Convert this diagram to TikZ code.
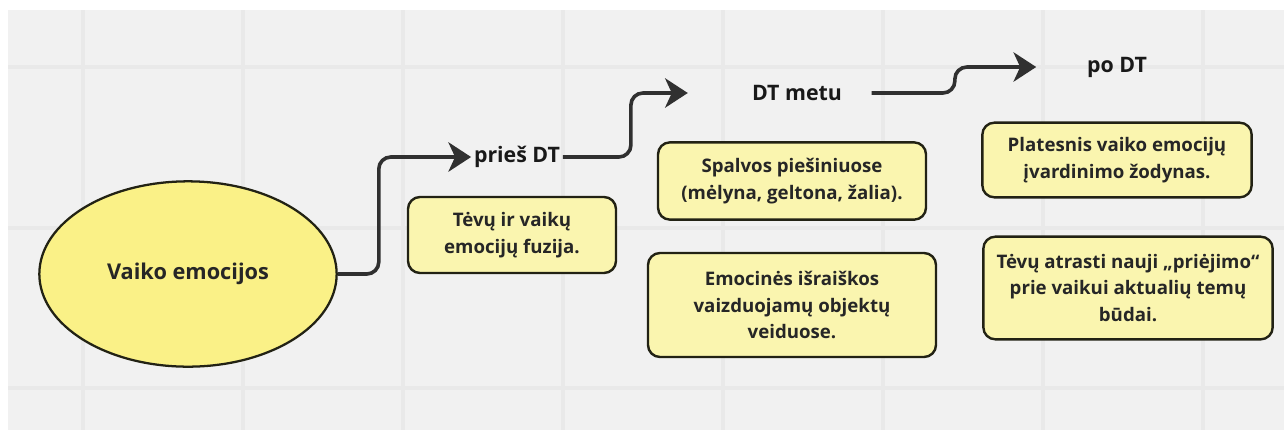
\documentclass[tikz,border=0pt]{standalone}
\usepackage{fontspec}
\setmainfont{Open Sans}
\usepackage{tikz}
\usetikzlibrary{arrows.meta,positioning,shapes.geometric}
\definecolor{cCanvas}{RGB}{241,241,241}
\definecolor{cGrid}  {RGB}{233,233,233}
\definecolor{cBlob}  {RGB}{250,241,135}
\definecolor{cNote}  {RGB}{250,245,175}
\definecolor{cEdge}  {RGB}{34,34,20}
\definecolor{cFlow}  {RGB}{48,48,48}
\tikzset{
  >={Stealth[length=17pt,width=22pt,inset=5pt]},
  blob/.style={ellipse,draw=cEdge,line width=1.7pt,fill=cBlob,
               minimum width=223pt,minimum height=139pt,inner sep=0pt,
               font=\fontsize{16.3}{20}\selectfont\bfseries,text=black!85},
  note/.style={draw=cEdge,line width=1.8pt,fill=cNote,rounded corners=9pt,
               align=center,inner sep=2pt,text=black!85,
               font=\fontsize{14}{20}\selectfont\bfseries},
  phase/.style={inner sep=2pt,font=\fontsize{16}{20}\selectfont\bfseries,
                text=black!90},
  flow/.style={->,cFlow,line width=2.7pt,rounded corners=9pt},
  gridline/.style={cGrid,line width=2.5pt},
}

\begin{document}
\begin{tikzpicture}[x=0.75pt,y=-0.75pt]
  \useasboundingbox (0,0) rectangle (1284,430);
  % canvas
  \fill[white] (0,0) rectangle (1284,430);
  \fill[cCanvas] (8,10) rectangle (1284,430);
  \foreach \gx in {83,243,403,563,723,883,1043,1203}
    \draw[gridline] (\gx,10) -- (\gx,430);
  \foreach \gy in {67,228,388}
    \draw[gridline] (8,\gy) -- (1284,\gy);

  % root
  \node[blob] (emo) at (188,274) {Vaiko emocijos};
  % phases
  \node[phase] (pries) at (517,157) {prieš DT};
  \node[phase] (metu) at (797,93) {DT metu};
  \node[phase] (po) at (1117,67) {po DT};
  % notes
  \node[note,minimum width=156pt,minimum height=57pt] (fuz) at (512,235)
    {Tėvų ir vaikų\\emocijų fuzija.};
  \node[note,minimum width=201pt,minimum height=58pt] (spal) at (792,181)
    {Spalvos piešiniuose\\(mėlyna, geltona, žalia).};
  \node[note,minimum width=216pt,minimum height=78pt] (emoc) at (792,305)
    {Emocinės išraiškos\\vaizduojamų objektų\\veiduose.};
  \node[note,minimum width=202pt,minimum height=56pt] (plat) at (1117,160)
    {Platesnis vaiko emocijų\\įvardinimo žodynas.};
  \node[note,minimum width=217pt,minimum height=77pt] (tevu) at (1128,288)
    {Tėvų atrasti nauji „priėjimo“\\prie vaikui aktualių temų\\būdai.};

  \draw[flow] (emo.east) -- ++(41,0) |- (pries.west);
  \draw[flow,shorten >=46pt] (pries.east) -- ++(68,0) |- (metu.west);
  \draw[flow,shorten <=20pt,shorten >=36pt] (metu.east) -- ++(110,0) |- (po.west);
\end{tikzpicture}
\end{document}
